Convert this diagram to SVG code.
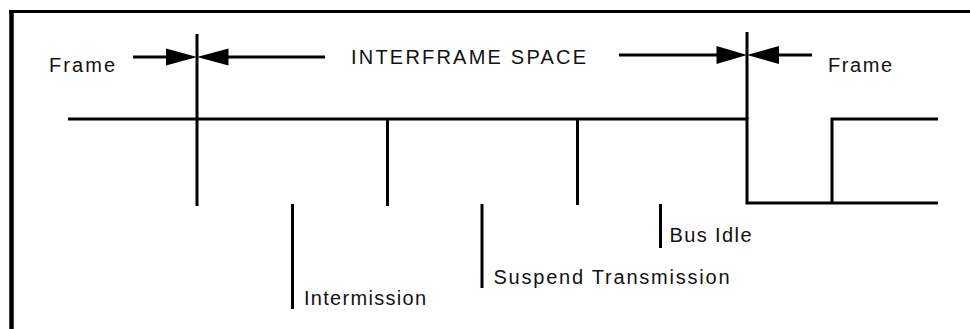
<svg xmlns="http://www.w3.org/2000/svg" width="970" height="329" viewBox="0 0 970 329">
<style>
.ln{stroke:#000;stroke-width:3;fill:none;stroke-linecap:butt}
.ah{fill:#000;stroke:none}
.t{font-family:"Liberation Sans",Arial,sans-serif;font-size:20px;fill:#111}
</style>
<rect x="0" y="0" width="970" height="329" fill="#fff"/>
<g id="border">
<line class="ln" x1="9" y1="11.5" x2="970" y2="11.5"/>
<line class="ln" style="stroke-width:4.5" x1="11.5" y1="10" x2="11.5" y2="329"/>
</g>
<g id="connectors">
<g id="signal">
<polyline class="ln" points="68,119 747,119 747,203 938,203"/>
<polyline class="ln" points="832,203 832,119 938,119"/>
</g>
<g id="ticks">
<line class="ln" x1="197" y1="34" x2="197" y2="206"/>
<line class="ln" x1="387.5" y1="119" x2="387.5" y2="206"/>
<line class="ln" x1="577.5" y1="119" x2="577.5" y2="205"/>
<line class="ln" x1="747" y1="32" x2="747" y2="119"/>
<line class="ln" x1="292.5" y1="204" x2="292.5" y2="309"/>
<line class="ln" x1="482" y1="204" x2="482" y2="288"/>
<line class="ln" x1="660.5" y1="204" x2="660.5" y2="248"/>
</g>
<g id="arrows-left">
<line class="ln" x1="133" y1="57" x2="170" y2="57"/>
<line class="ln" x1="225" y1="57" x2="325" y2="57"/>
<polygon class="ah" points="166,48.5 166,65.5 197,57"/>
<polygon class="ah" points="228.5,48.5 228.5,65.5 197,57"/>
</g>
<g id="arrows-right">
<line class="ln" x1="619" y1="55" x2="720" y2="55"/>
<line class="ln" x1="775" y1="55" x2="812" y2="55"/>
<polygon class="ah" points="716.5,46 716.5,64 747,55"/>
<polygon class="ah" points="779,46 779,64 747,55"/>
</g>
</g>
<g id="label-frame-left"><text class="t" x="49" y="71.5" textLength="66" lengthAdjust="spacing">Frame</text></g>
<g id="label-interframe"><text class="t" x="351" y="64" textLength="235" lengthAdjust="spacing">INTERFRAME SPACE</text></g>
<g id="label-frame-right"><text class="t" x="828" y="71.5" textLength="64" lengthAdjust="spacing">Frame</text></g>
<g id="label-intermission"><text class="t" x="304" y="305" textLength="122" lengthAdjust="spacing">Intermission</text></g>
<g id="label-suspend"><text class="t" x="493.5" y="283.5" textLength="236" lengthAdjust="spacing">Suspend Transmission</text></g>
<g id="label-busidle"><text class="t" x="669.5" y="242" textLength="82" lengthAdjust="spacing">Bus Idle</text></g>
</svg>
